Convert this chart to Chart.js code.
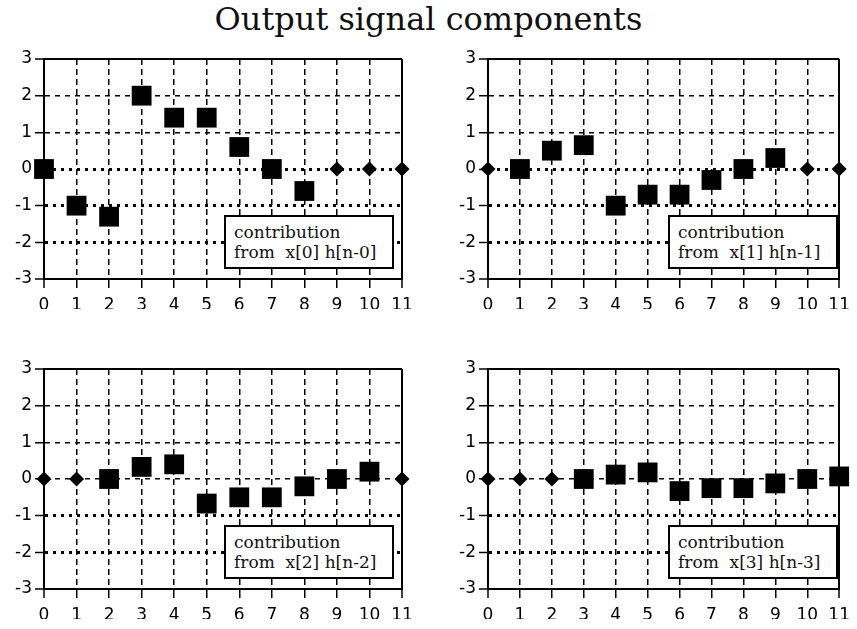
<!DOCTYPE html>
<html>
<head>
<meta charset="utf-8">
<script src="https://cdn.jsdelivr.net/npm/chart.js@4"></script>
<style>
  body { margin: 0; background: #fff; width: 857px; height: 629px; overflow: hidden; position: relative; }
  .title { position: absolute; left: 0; top: 0px; width: 857px; text-align: center;
           font-family: "DejaVu Serif"; font-size: 32px; color: #111; }
  canvas { position: absolute; }
  .box { position: absolute; width: 158px; height: 45px; border: 2px solid #000; background: #fff;
         padding: 5px 0 0 8px; font-family: "DejaVu Serif"; font-size: 17px; line-height: 20px; color: #111; }
</style>
</head>
<body>
<div class="title">Output signal components</div>

<canvas id="c0" width="420" height="264" style="left:0px;top:45px"></canvas>
<canvas id="c1" width="413" height="264" style="left:444px;top:45px"></canvas>
<canvas id="c2" width="420" height="264" style="left:0px;top:355px"></canvas>
<canvas id="c3" width="413" height="264" style="left:444px;top:355px"></canvas>

<div class="box" style="left:224px;top:215px">contribution<br>from&nbsp; x[0] h[n-0]</div>
<div class="box" style="left:668px;top:215px">contribution<br>from&nbsp; x[1] h[n-1]</div>
<div class="box" style="left:224px;top:525px">contribution<br>from&nbsp; x[2] h[n-2]</div>
<div class="box" style="left:668px;top:525px">contribution<br>from&nbsp; x[3] h[n-3]</div>

<script>
// サンプル番号 n
const n = [0, 1, 2, 3, 4, 5, 6, 7, 8, 9, 10, 11];

// 各成分 x[k] h[n-k]（null = 範囲外、0 の小さい菱形で描く）
const comp0 = [0, -1, -1.3, 2, 1.4, 1.4, 0.6, 0, -0.6, null, null, null];
const comp1 = [null, 0, 0.5, 0.65, -1, -0.7, -0.7, -0.3, 0, 0.3, null, null];
const comp2 = [null, null, 0, 0.33, 0.4, -0.67, -0.5, -0.5, -0.2, 0, 0.2, null];
const comp3 = [null, null, null, 0, 0.12, 0.18, -0.33, -0.25, -0.25, -0.12, 0, 0.07];

const yTicks = [-3, -2, -1, 0, 1, 2, 3];

function makeChart(id, comp, dotted, padRight) {
    const squares = [];
    const diamonds = [];
    n.forEach((x, i) => {
        if (comp[i] === null) diamonds.push({ x: x, y: 0 });
        else squares.push({ x: x, y: comp[i] });
    });

    const xMin = n[0], xMax = n[n.length - 1];
    const yMin = yTicks[0], yMax = yTicks[yTicks.length - 1];

    return new Chart(document.getElementById(id), {
        type: 'scatter',
        data: {
            datasets: [{
                data: squares,
                pointStyle: 'rect',
                pointRadius: 14,
                pointHoverRadius: 14,
                backgroundColor: '#000',
                borderColor: '#000',
                borderWidth: 0,
                clip: false,
            }, {
                data: diamonds,
                pointStyle: 'rectRot',
                pointRadius: 7.5,
                pointHoverRadius: 7.5,
                backgroundColor: '#000',
                borderColor: '#000',
                borderWidth: 0,
                clip: false,
            }]
        },
        options: {
            responsive: false,
            animation: false,
            events: [],
            layout: { padding: { top: 14, right: padRight, left: 0, bottom: 0 } },
            plugins: { legend: { display: false }, tooltip: { enabled: false } },
            scales: {
                x: {
                    type: 'linear',
                    min: xMin,
                    max: xMax,
                    afterFit: (s) => { s.height = 30; },
                    ticks: {
                        stepSize: 1,
                        autoSkip: false,
                        maxRotation: 0,
                        padding: 7,
                        color: '#000',
                        font: { family: 'DejaVu Sans', size: 17 },
                    },
                    grid: {
                        color: '#000',
                        lineWidth: (c) => (c.tick && (c.tick.value === xMin || c.tick.value === xMax)) ? 2 : 1.5,
                        tickLength: 9,
                        tickWidth: 1.5,
                        tickColor: '#000',
                    },
                    border: {
                        display: true,
                        color: '#000',
                        width: 2,
                        dash: (c) => {
                            if (!c.tick) return [];
                            const v = c.tick.value;
                            return (v === xMin || v === xMax) ? [] : [6, 4];
                        },
                    },
                },
                y: {
                    min: yMin,
                    max: yMax,
                    afterFit: (s) => { s.width = 44; },
                    ticks: {
                        stepSize: 1,
                        padding: 3,
                        color: '#000',
                        font: { family: 'DejaVu Sans', size: 17 },
                    },
                    grid: {
                        color: '#000',
                        lineWidth: (c) => {
                            if (!c.tick) return 1.5;
                            const v = c.tick.value;
                            if (v === yMin || v === yMax) return 2;
                            return dotted.includes(v) ? 3 : 1.5;
                        },
                        tickLength: 9,
                        tickWidth: 1.5,
                        tickColor: '#000',
                    },
                    border: {
                        display: true,
                        color: '#000',
                        width: 2,
                        dash: (c) => {
                            if (!c.tick) return [];
                            const v = c.tick.value;
                            if (v === yMin || v === yMax) return [];
                            return dotted.includes(v) ? [3, 5] : [5, 5];
                        },
                    },
                }
            }
        }
    });
}

makeChart('c0', comp0, [0, -1, -2], 18);
makeChart('c1', comp1, [0, -1, -2], 11);
makeChart('c2', comp2, [-1, -2], 18);
makeChart('c3', comp3, [-1, -2], 11);
</script>
</body>
</html>
